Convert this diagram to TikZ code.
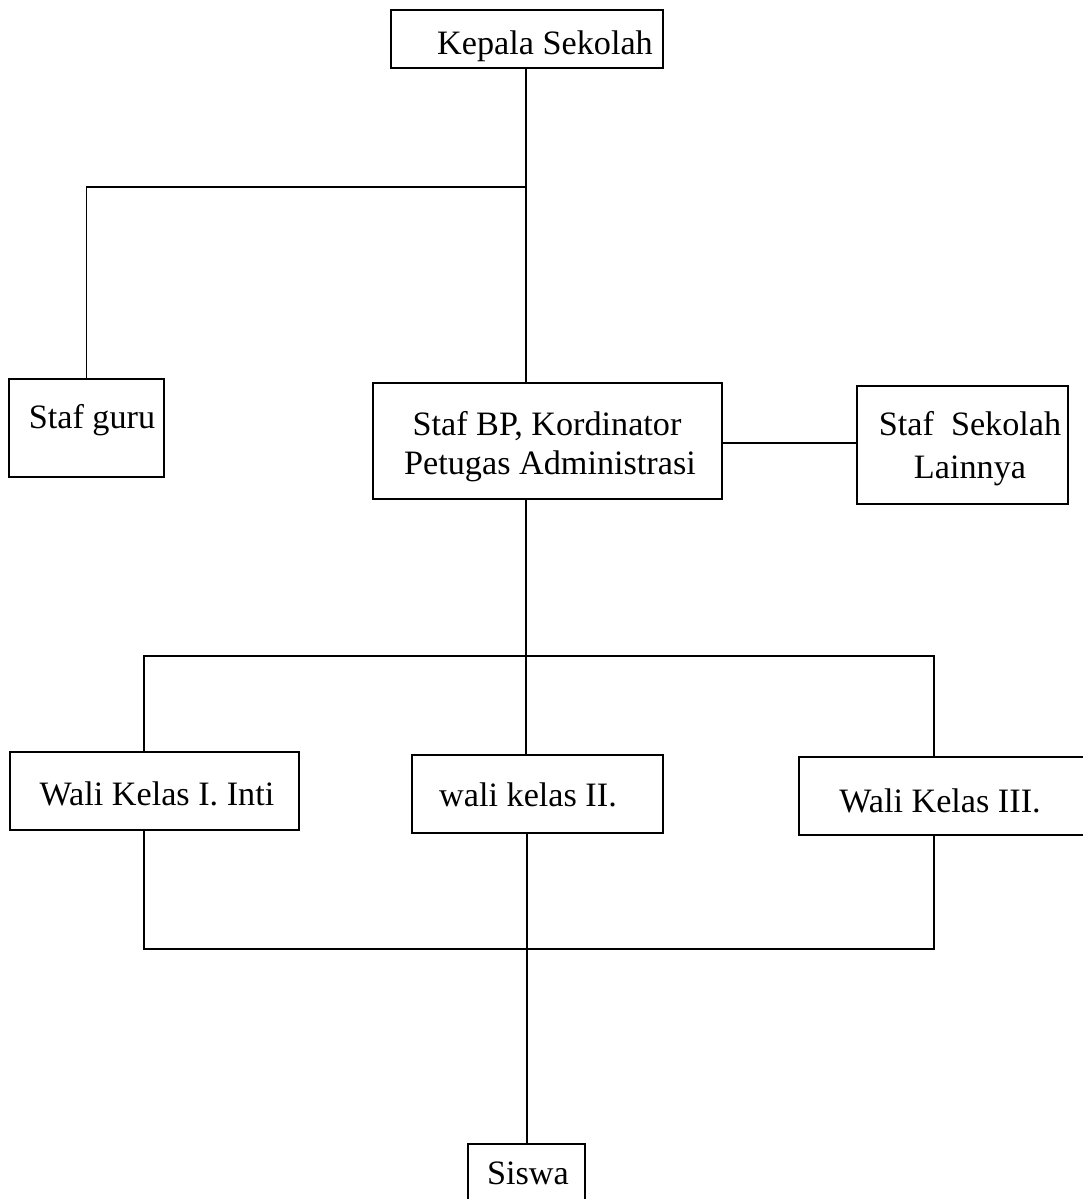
\documentclass[tikz,border=0pt]{standalone}
\usepackage{fontspec}
\setmainfont{Liberation Serif}
\begin{document}
\begin{tikzpicture}[x=1pt,y=-1pt,
  box/.style={draw, line width=1.3pt, rectangle, inner sep=0pt},
  lbl/.style={anchor=base, inner sep=0pt, font=\fontsize{34.2}{40}\selectfont, align=center},
  conn/.style={line width=1.3pt}]
\useasboundingbox (0,0) rectangle (1083,1199);
\clip (0,0) rectangle (1083,1199);
% boxes
\node[box, minimum width=272pt, minimum height=58pt] (ks) at (527,39) {};
\node[box, minimum width=155pt, minimum height=98pt] (sg) at (86.5,428) {};
\node[box, minimum width=349pt, minimum height=116pt] (bp) at (547.5,441) {};
\node[box, minimum width=211pt, minimum height=118pt] (sl) at (962.5,445) {};
\node[box, minimum width=289pt, minimum height=78pt] (w1) at (154.5,791) {};
\node[box, minimum width=251pt, minimum height=78pt] (w2) at (537.5,794) {};
\node[box, minimum width=292pt, minimum height=78pt] (w3) at (945,796) {};
\node[box, minimum width=117pt, minimum height=64pt] (sw) at (526.5,1176) {};
% labels
\node[lbl] (tks) at (545,55) {Kepala Sekolah};
\node[lbl] (tsg) at (92,428) {Staf guru};
\node[lbl] (tbp1) at (547,435) {Staf BP, Kordinator};
\node[lbl] (tbp2) at (550,474) {Petugas Administrasi};
\node[lbl] (tsl1) at (970,435) {Staf~ Sekolah};
\node[lbl] (tsl2) at (970,478) {Lainnya};
\node[lbl] (tw1) at (157,805) {Wali Kelas I. Inti};
\node[lbl] (tw2) at (528,806) {wali kelas II.};
\node[lbl] (tw3) at (940,812) {Wali Kelas III.};
\node[lbl] (tsw) at (528,1184) {Siswa};
% junctions
\coordinate (j1) at (526,187);
\coordinate (j2) at (526,656);
\coordinate (j3) at (527,949);
\coordinate (xl) at (144,0);
\coordinate (xr) at (934,0);
% connectors
\draw[conn] (ks.south -| j1) -- (j1) -- (bp.north -| j1);
\draw[conn] (j1) -| (sg.north);
\draw[conn] (bp.east |- 0,443) -- (sl.west |- 0,443);
\draw[conn] (bp.south -| j2) -- (j2);
\draw[conn] (j2) -| (w1.north -| xl);
\draw[conn] (j2) -| (w3.north -| xr);
\draw[conn] (j2) -- (w2.north -| j2);
\draw[conn] (w1.south -| xl) -- (xl |- j3) -- (xr |- j3) -- (w3.south -| xr);
\draw[conn] (w2.south -| j3) -- (sw.north -| j3);
\end{tikzpicture}
\end{document}
